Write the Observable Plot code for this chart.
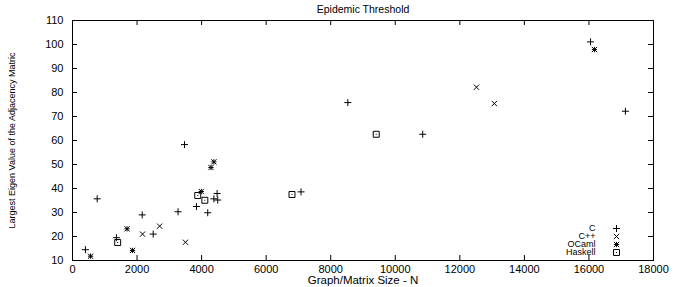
<!DOCTYPE html>
<html><head><meta charset="utf-8">
<script src="https://cdn.jsdelivr.net/npm/d3@7"></script>
<script src="https://cdn.jsdelivr.net/npm/@observablehq/plot@0.6"></script>
<style>body{margin:0;background:#fff}svg{display:block}</style>
</head><body><div id="chart"></div>
<script>
// ---- data ----
const seriesNames = ["C", "C++", "OCaml", "Haskell"];
const cN   = [400, 765, 1360, 2160, 2500, 3270, 3840, 4190, 4480, 4380, 4500, 3470, 7080, 8530, 10850, 16050, 17130];
const cVal = [14.5, 35.7, 19.5, 29.0, 21.0, 30.3, 32.5, 29.9, 37.9, 35.7, 35.2, 58.3, 38.6, 75.8, 62.6, 101.1, 72.2];
const cppN   = [2170, 2700, 3500, 12515, 13070];
const cppVal = [21.0, 24.3, 17.6, 82.2, 75.4];
const ocamlN   = [560, 1690, 1860, 3990, 4290, 4380, 16170];
const ocamlVal = [11.8, 23.2, 14.2, 38.75, 48.75, 51.1, 97.9];
const haskellN   = [1400, 3880, 4100, 6800, 9410];
const haskellVal = [17.5, 37.1, 35.1, 37.5, 62.6];
const xTicks = [0, 2000, 4000, 6000, 8000, 10000, 12000, 14000, 16000, 18000];
const yTicks = [10, 20, 30, 40, 50, 60, 70, 80, 90, 100, 110];
const titleText = "Epidemic Threshold";
const xLabel = "Graph/Matrix Size - N";
const yLabel = "Largest Eigen Value of the Adjacency Matric";

// ---- symbols (gnuplot-like) ----
const half = s => Math.sqrt(s / Math.PI);
const symPlus = {draw(c, s){const r = half(s); c.moveTo(-r,0); c.lineTo(r,0); c.moveTo(0,-r); c.lineTo(0,r);}};
const symTimes = {draw(c, s){const r = half(s)*0.75; c.moveTo(-r,-r); c.lineTo(r,r); c.moveTo(-r,r); c.lineTo(r,-r);}};
const symStar = {draw(c, s){const r = half(s)*0.75; c.moveTo(-r,-r); c.lineTo(r,r); c.moveTo(-r,r); c.lineTo(r,-r); c.moveTo(-r,0); c.lineTo(r,0); c.moveTo(0,-r); c.lineTo(0,r);}};
const symBox = {draw(c, s){const r = half(s)*0.85; c.moveTo(-r,-r); c.lineTo(r,-r); c.lineTo(r,r); c.lineTo(-r,r); c.closePath(); c.moveTo(-0.5,0); c.lineTo(0.5,0);}};
const symbols = [symPlus, symTimes, symStar, symBox];

const seriesData = [[cN, cVal], [cppN, cppVal], [ocamlN, ocamlVal], [haskellN, haskellVal]]
  .map(([ns, vs], i) => ns.map((n, j) => ({n, v: vs[j], s: seriesNames[i]})));

const W = 686, H = 287;
const mL = 72, mR = 33, mT = 20, mB = 27;
const fw = W - mL - mR, fh = H - mT - mB;
const tk = 5;

const marks = [
  Plot.frame({stroke: "#000", strokeWidth: 1}),
  Plot.tickX(xTicks, {x: d => d, insetTop: fh - tk, stroke: "#000"}),
  Plot.tickX(xTicks, {x: d => d, insetBottom: fh - tk, stroke: "#000"}),
  Plot.tickY(yTicks, {y: d => d, insetRight: fw - tk, stroke: "#000"}),
  Plot.tickY(yTicks, {y: d => d, insetLeft: fw - tk, stroke: "#000"}),
  Plot.axisX(xTicks, {tickSize: 0, tickPadding: 5, label: null, fontSize: 11, tickFormat: d => String(d)}),
  Plot.axisY(yTicks, {tickSize: 0, tickPadding: 9, label: null, fontSize: 11}),
  Plot.text([xLabel], {text: d => d, frameAnchor: "bottom", lineAnchor: "middle", dy: 20, fontSize: 11.5, letterSpacing: "0.7px"}),
  Plot.text([yLabel], {text: d => d, frameAnchor: "left", textAnchor: "middle", lineAnchor: "middle", dx: -60, rotate: -90, fontSize: 9, letterSpacing: "-0.3px", fontFamily: "Liberation Sans Narrow, Liberation Sans, sans-serif"}),
  Plot.text([titleText], {text: d => d, frameAnchor: "top", lineAnchor: "middle", dy: -11, fontSize: 10.5})
];
seriesData.forEach((data, i) => {
  marks.push(Plot.dot(data, {x: "n", y: "v", symbol: () => symbols[i], r: 3.5, fill: "none", stroke: "#000", strokeWidth: 1}));
});
seriesNames.forEach((name, i) => {
  const dy = -(32 - 8 * i);
  marks.push(Plot.text([name], {text: d => d, frameAnchor: "bottom-right", lineAnchor: "middle", dx: -58, dy, textAnchor: "end", fontSize: 9, letterSpacing: "0.3px"}));
  marks.push(Plot.dot([name], {frameAnchor: "bottom-right", dx: -37, dy, symbol: () => symbols[i], r: 3.5, fill: "none", stroke: "#000", strokeWidth: 1}));
});

const chart = Plot.plot({
  width: W, height: H,
  marginLeft: mL, marginRight: mR, marginTop: mT, marginBottom: mB,
  style: {fontFamily: "Liberation Sans, Arial, sans-serif", background: "#fff", color: "#000"},
  x: {domain: [0, 18000]},
  y: {domain: [10, 110]},
  symbol: {type: "identity"},
  marks
});
document.getElementById("chart").append(chart);
</script>
</body></html>
